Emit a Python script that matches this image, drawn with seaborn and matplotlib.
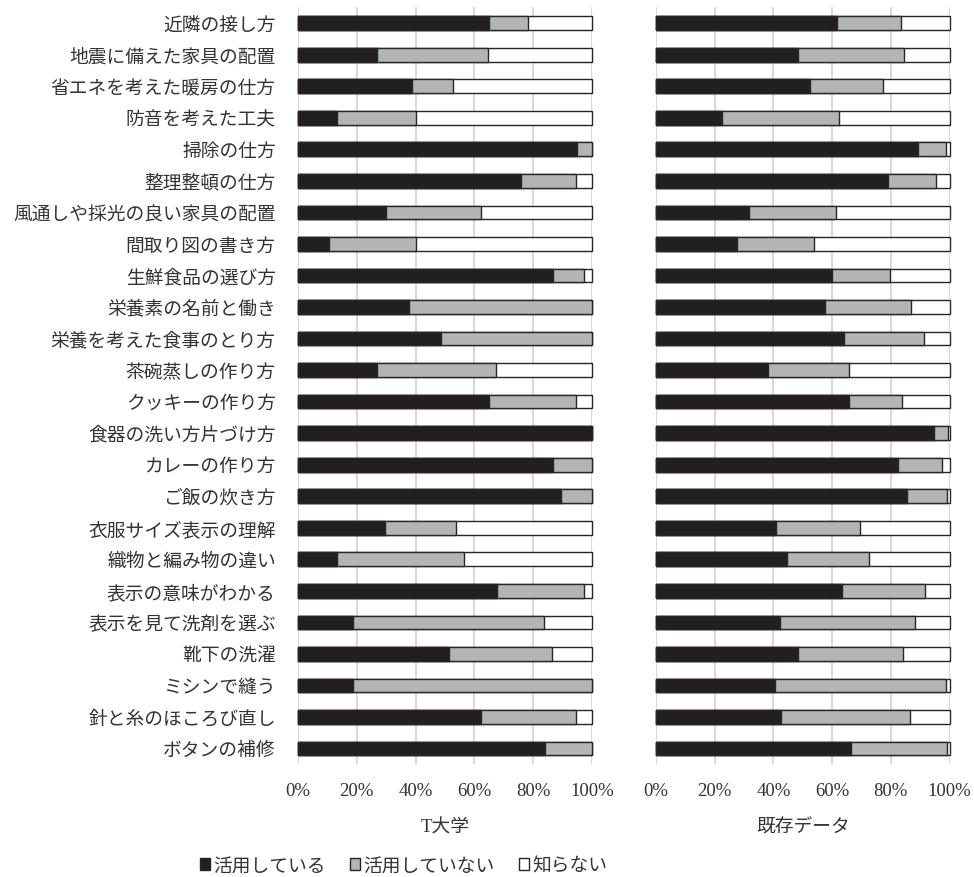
import matplotlib
matplotlib.use("Agg")
import matplotlib.pyplot as plt
from matplotlib.patches import Patch
import seaborn as sns
import pandas as pd

items = ['近隣の接し方', '地震に備えた家具の配置', '省エネを考えた暖房の仕方', '防音を考えた工夫',
         '掃除の仕方', '整理整頓の仕方', '風通しや採光の良い家具の配置', '間取り図の書き方',
         '生鮮食品の選び方', '栄養素の名前と働き', '栄養を考えた食事のとり方', '茶碗蒸しの作り方',
         'クッキーの作り方', '食器の洗い方片づけ方', 'カレーの作り方', 'ご飯の炊き方',
         '衣服サイズ表示の理解', '織物と編み物の違い', '表示の意味がわかる', '表示を見て洗剤を選ぶ',
         '靴下の洗濯', 'ミシンで縫う', '針と糸のほころび直し', 'ボタンの補修']

series_names = ['活用している', '活用していない', '知らない']
panel_titles = ['T大学', '既存データ']

# T大学
t_used = [65.0, 27.0, 38.8, 13.4, 94.9, 75.8, 29.9, 10.7, 86.8, 37.7, 48.8, 26.9,
          65.0, 100.0, 86.8, 89.3, 29.7, 13.4, 67.6, 18.8, 51.4, 18.8, 62.3, 84.0]
t_notused = [13.3, 37.7, 13.9, 26.9, 5.1, 18.8, 32.2, 29.6, 10.5, 62.3, 51.2, 40.5,
             29.6, 0.0, 13.2, 10.7, 24.2, 43.2, 29.7, 65.0, 35.1, 81.2, 32.3, 16.0]
t_unknown = [21.7, 35.3, 47.3, 59.7, 0.0, 5.4, 37.9, 59.7, 2.7, 0.0, 0.0, 32.6,
             5.4, 0.0, 0.0, 0.0, 46.1, 43.4, 2.7, 16.2, 13.5, 0.0, 5.4, 0.0]

# 既存データ
e_used = [61.6, 48.5, 52.6, 22.5, 89.3, 79.1, 31.8, 27.5, 59.9, 57.5, 64.0, 38.3,
          65.6, 94.8, 82.3, 85.6, 40.9, 44.7, 63.3, 42.4, 48.4, 40.5, 42.5, 66.5]
e_notused = [22.0, 36.0, 24.7, 40.0, 9.6, 16.4, 29.5, 26.5, 19.8, 29.3, 27.4, 27.4,
             18.3, 4.7, 15.2, 13.4, 28.6, 28.0, 28.3, 45.9, 35.9, 58.4, 44.2, 32.5]
e_unknown = [16.4, 15.5, 22.7, 37.5, 1.1, 4.5, 38.7, 46.0, 20.3, 13.2, 8.6, 34.3,
             16.1, 0.5, 2.5, 1.0, 30.5, 27.3, 8.4, 11.7, 15.7, 1.1, 13.3, 1.0]

xticks = [0, 20, 40, 60, 80, 100]
xtick_labels = ['0%', '20%', '40%', '60%', '80%', '100%']

colors = ['#231f20', '#b3b4b5', '#ffffff']
edge = '#262626'

sns.set_theme(style='white')
plt.rcParams['font.family'] = ['Liberation Serif', 'Noto Sans CJK JP']
plt.rcParams['axes.unicode_minus'] = False

fig = plt.figure(figsize=(9.74, 8.78), dpi=100)
W, H = 974.0, 878.0
ax_top, ax_bot = 8.4, 765.3
axL = fig.add_axes([298 / W, 1 - ax_bot / H, 294 / W, (ax_bot - ax_top) / H])
axR = fig.add_axes([656 / W, 1 - ax_bot / H, 293.5 / W, (ax_bot - ax_top) / H])

panels = [(axL, t_used, t_notused, t_unknown), (axR, e_used, e_notused, e_unknown)]
fs = 13.5
for i, (ax, u, n, k) in enumerate(panels):
    df = pd.DataFrame({'item': items, 'u': u, 'n': n, 'k': k})
    df['c1'] = df['u']
    df['c2'] = df['u'] + df['n']
    df['c3'] = df['u'] + df['n'] + df['k']
    for v in xticks:
        ax.axvline(v, color='#d9d9d9', lw=1.5, zorder=0)
    for col, colr in zip(['c3', 'c2', 'c1'], colors[::-1]):
        sns.barplot(data=df, y='item', x=col, order=items, orient='h', color=colr,
                    width=0.435, edgecolor=edge, linewidth=1.0, ax=ax, zorder=3,
                    saturation=1, errorbar=None)
    for p in ax.patches:
        p.set_clip_on(False)
    ax.set_xlim(0, 100)
    ax.set_ylim(len(items) - 0.5, -0.5)
    ax.set_xticks(xticks)
    ax.set_xticklabels(xtick_labels, fontsize=fs, color='#333333')
    ax.tick_params(axis='x', length=0, pad=13)
    ax.tick_params(axis='y', length=0, pad=16)
    ax.set_xlabel(panel_titles[i], fontsize=fs, color='#333333', labelpad=14)
    ax.set_ylabel('')
    if i == 0:
        ax.set_yticklabels(items, fontsize=fs, color='#333333')
    else:
        ax.set_yticklabels([])
    for s in ax.spines.values():
        s.set_visible(False)
    ax.grid(False)

handles = [Patch(facecolor=c, edgecolor=edge, linewidth=1.0) for c in colors]
fig.legend(handles, series_names, loc='center left',
           bbox_to_anchor=(200 / W, 1 - 867 / H), ncol=3, frameon=False,
           fontsize=fs, handlelength=0.55, handleheight=0.55, handletextpad=0.15,
           columnspacing=1.3, borderpad=0, borderaxespad=0,
           labelcolor='#333333')

fig.savefig('out.png', dpi=100, facecolor='white')
